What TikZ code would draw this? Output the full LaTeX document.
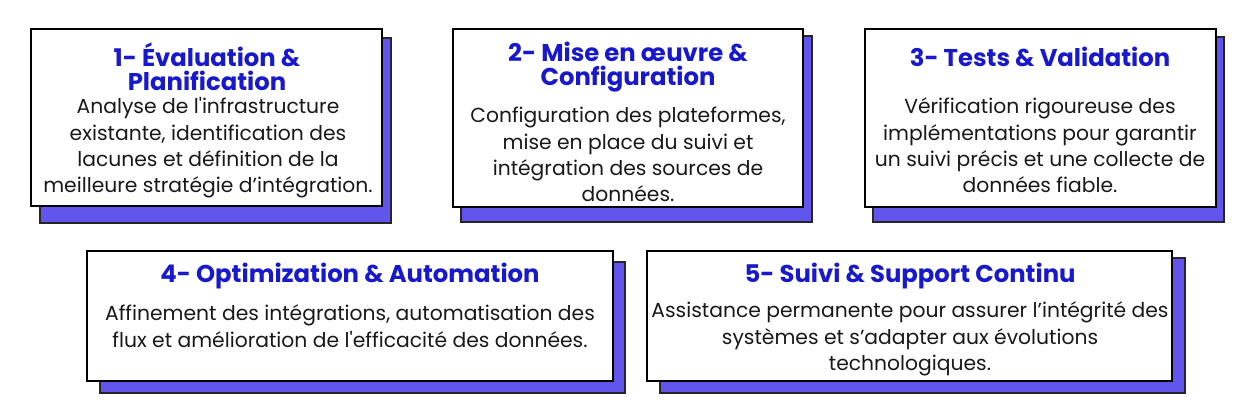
\documentclass[tikz,border=0pt]{standalone}
\usepackage{fontspec}
\setmainfont{Poppins}
\definecolor{shade}{RGB}{96,84,236}
\definecolor{ttl}{RGB}{24,24,204}
\definecolor{bodytxt}{RGB}{25,25,25}
\tikzset{
  shadowrect/.style={draw=black!85, line width=1.2pt, fill=shade, anchor=north west, inner sep=0pt, outer sep=0pt},
  panel/.style={draw=black, line width=1.5pt, fill=white, anchor=north west, inner sep=0pt, outer sep=0pt},
  ttlstyle/.style={text=ttl, font=\fontsize{24.3}{24}\selectfont\bfseries, align=center, inner sep=0pt},
  bodystyle/.style={text=bodytxt, font=\fontsize{20.3}{26.3}\selectfont, align=center, inner sep=0pt}
}
\begin{document}
\begin{tikzpicture}[x=1pt,y=-1pt]
\useasboundingbox (0,0) rectangle (1260,415);
\fill[white] (0,0) rectangle (1260,415);
% box 1
\node (sh1) [shadowrect, minimum width=351pt, minimum height=185pt] at (40,38) {};
\node (box1) [panel, minimum width=351pt, minimum height=177pt] at (31,29) {};
\node (t1) [ttlstyle] at (207,67) {1- Évaluation \&\\Planification};
\node (b1) [bodystyle] at (208,148) {Analyse de l\textquotesingle infrastructure\\existante, identification des\\lacunes et définition de la\\meilleure stratégie d’intégration.};
% box 2
\node (sh2) [shadowrect, minimum width=351pt, minimum height=186pt] at (461,36) {};
\node (box2) [panel, minimum width=350pt, minimum height=178pt] at (453,29) {};
\node (t2) [ttlstyle] at (628,67) {2- Mise en œuvre \&\\Configuration};
\node (b2) [bodystyle] at (628,154.5) {Configuration des plateformes,\\mise en place du suivi et\\intégration des sources de\\données.};
% box 3
\node (sh3) [shadowrect, minimum width=351pt, minimum height=185pt] at (873,37) {};
\node (box3) [panel, minimum width=351pt, minimum height=178pt] at (865,29) {};
\node (t3) [ttlstyle] at (1040,57) {3- Tests \& Validation};
\node (b3) [bodystyle] at (1040,145.5) {Vérification rigoureuse des\\implémentations pour garantir\\un suivi précis et une collecte de\\données fiable.};
% box 4
\node (sh4) [shadowrect, minimum width=525pt, minimum height=131pt] at (100,262) {};
\node (box4) [panel, minimum width=526pt, minimum height=130pt] at (87,251) {};
\node (t4) [ttlstyle] at (350,276) {4- Optimization \& Automation};
\node (b4) [bodystyle] at (350,326) {Affinement des intégrations, automatisation des\\flux et amélioration de l\textquotesingle efficacité des données.};
% box 5
\node (sh5) [shadowrect, minimum width=525pt, minimum height=135pt] at (660,258) {};
\node (box5) [panel, minimum width=525pt, minimum height=130pt] at (647,251) {};
\node (t5) [ttlstyle] at (910,276) {5- Suivi \& Support Continu};
\node (b5) [bodystyle] at (910,339) {Assistance permanente pour assurer l’intégrité des\\systèmes et s’adapter aux évolutions\\technologiques.};
\end{tikzpicture}
\end{document}
